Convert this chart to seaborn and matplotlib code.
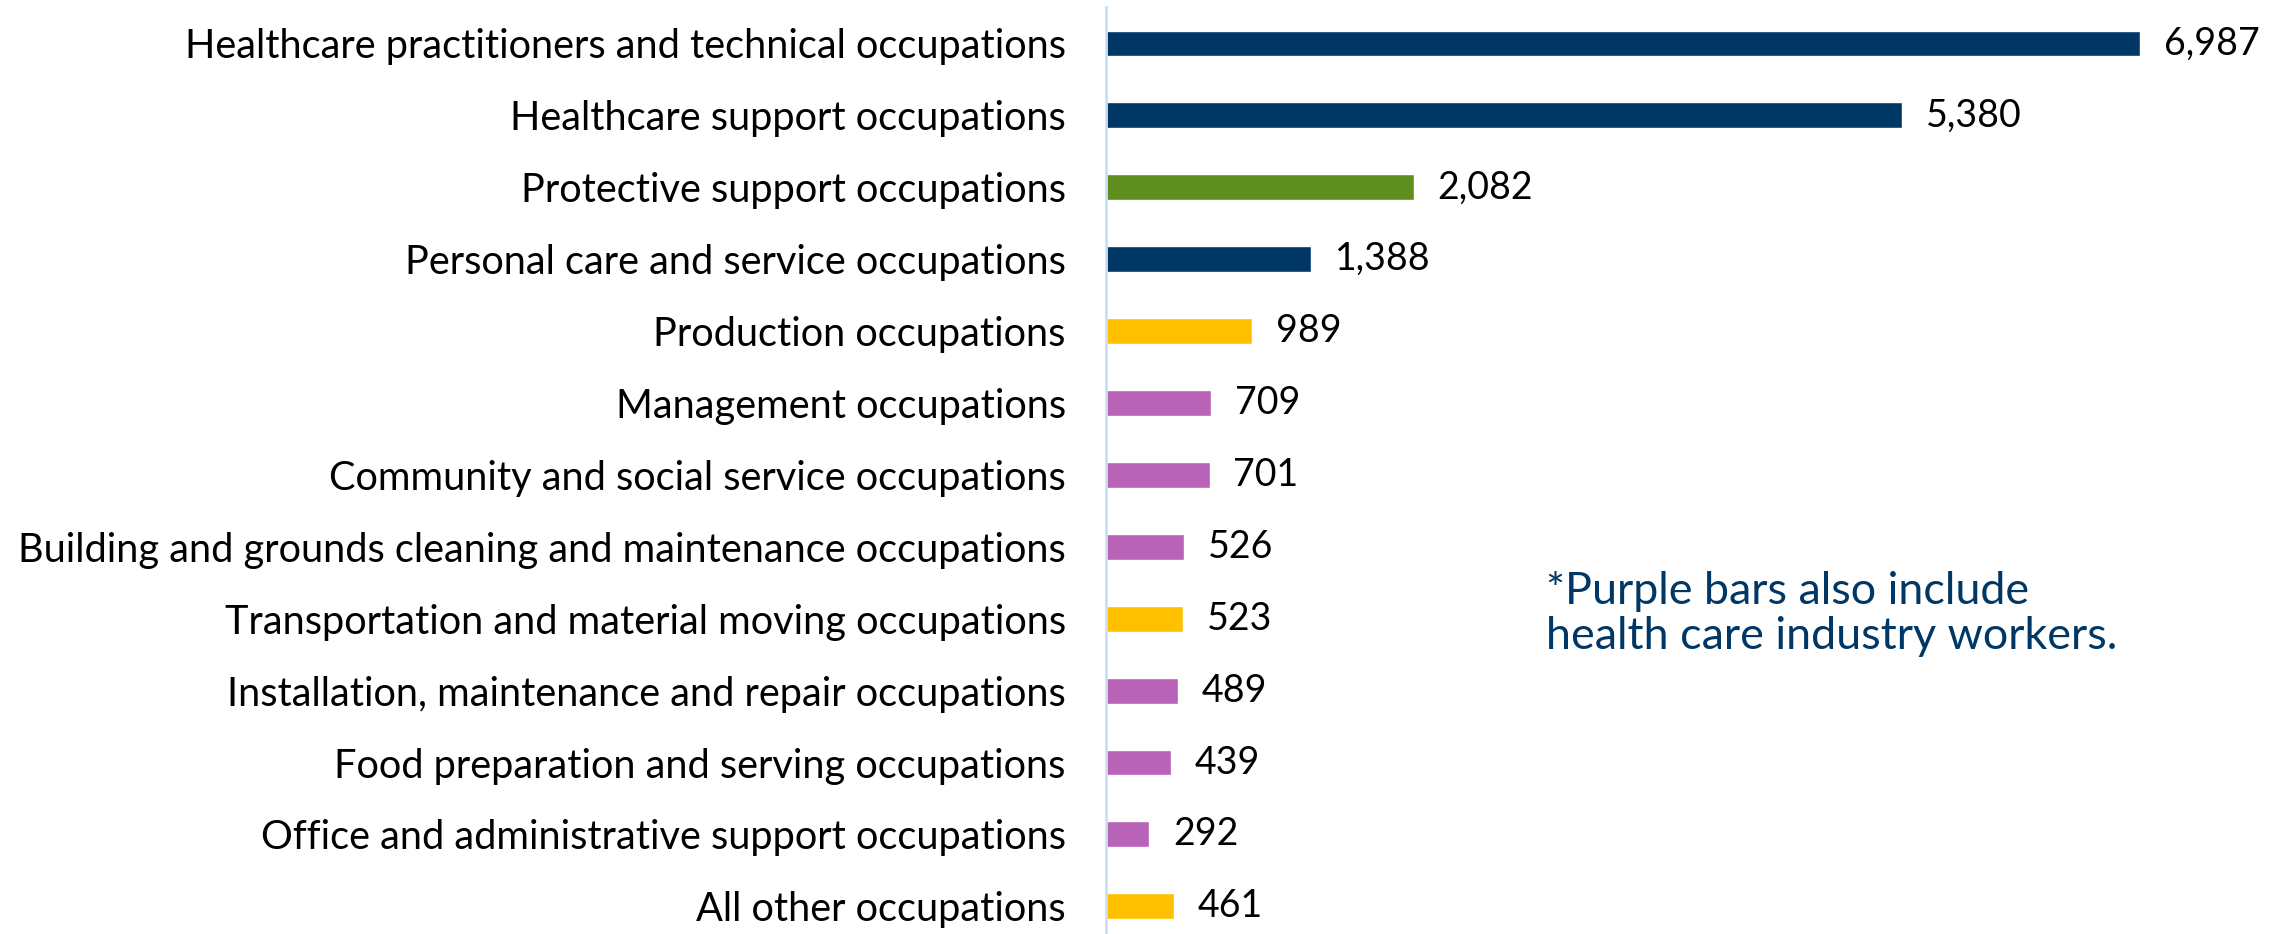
import seaborn as sns
import matplotlib.pyplot as plt
import pandas as pd

# data
occupations = [
    "Healthcare practitioners and technical occupations",
    "Healthcare support occupations",
    "Protective support occupations",
    "Personal care and service occupations",
    "Production occupations",
    "Management occupations",
    "Community and social service occupations",
    "Building and grounds cleaning and maintenance occupations",
    "Transportation and material moving occupations",
    "Installation, maintenance and repair occupations",
    "Food preparation and serving occupations",
    "Office and administrative support occupations",
    "All other occupations",
]
counts = [6987, 5380, 2082, 1388, 989, 709, 701, 526, 523, 489, 439, 292, 461]
groups = ["health", "health", "protective", "health", "other", "purple", "purple",
          "purple", "other", "purple", "purple", "purple", "other"]

group_colors = {"health": "#003764", "protective": "#5e8e1e",
                "other": "#ffc000", "purple": "#b862b8"}

df = pd.DataFrame({"occupation": occupations, "count": counts, "group": groups})

sns.set_theme(style="white")
plt.rcParams["font.family"] = ["Lato", "DejaVu Sans"]

fig = plt.figure(figsize=(22.72, 9.34), dpi=100)
ax = fig.add_axes([1106 / 2272, 0, 1 - 1106 / 2272, 1 - 7 / 934])

sns.barplot(data=df, x="count", y="occupation", hue="group", palette=group_colors,
            orient="h", width=0.36, legend=False, saturation=1, ax=ax)

for i, v in enumerate(counts):
    ax.text(v + 160, i, f"{v:,}", va="center", ha="left", fontsize=27, color="black")

ax.set_xlim(0, 7880)
ax.set_ylim(12.385, -0.507)
ax.set_xlabel("")
ax.set_ylabel("")
ax.set_xticks([])
for s in ["top", "right", "bottom"]:
    ax.spines[s].set_visible(False)
ax.spines["left"].set_color("#c9e0f4")
ax.spines["left"].set_linewidth(2)
ax.tick_params(axis="y", length=0, pad=29, labelsize=28.6, labelcolor="black")

fig.text(1546 / 2272, 1 - 614 / 934,
         "*Purple bars also include\nhealth care industry workers.",
         ha="left", va="center", fontsize=32.3, color="#003764", linespacing=1.15)

fig.savefig("out.png", dpi=100)
